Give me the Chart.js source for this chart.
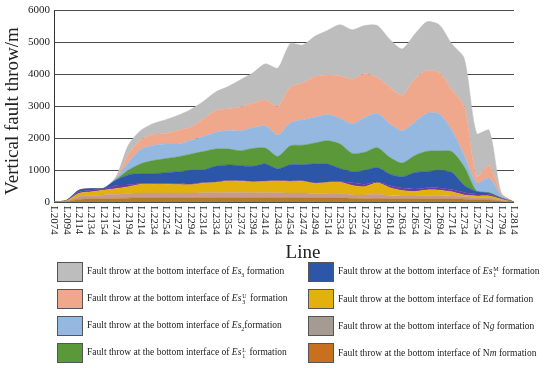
<!DOCTYPE html>
<html><head><meta charset="utf-8">
<script src="https://cdn.jsdelivr.net/npm/chart.js@4/dist/chart.umd.min.js"></script>
<style>
html,body{margin:0;padding:0;background:#fff;}
#wrap{position:relative;width:550px;height:368px;overflow:hidden;background:#fff;}
#c{position:absolute;left:0;top:0;}
.lg{position:absolute;font-family:"Liberation Serif",serif;font-size:9.5px;color:#222;white-space:nowrap;display:flex;align-items:center;height:20px;}
.box{width:26px;height:20px;border:1px solid #555;box-sizing:border-box;margin-right:4px;flex:none;}
.ss{display:inline-flex;flex-direction:column;vertical-align:middle;font-size:6px;line-height:6px;margin:0 1px;}
</style></head>
<body>
<div id="wrap">
<canvas id="c" width="550" height="265"></canvas>
<div id="legend"></div>
</div>
<script>
const labels = ["L2074","L2094","L2114","L2134","L2154","L2174","L2194","L2214","L2234","L2254","L2274","L2294","L2314","L2334","L2354","L2374","L2394","L2414","L2434","L2454","L2474","L2494","L2514","L2534","L2554","L2574","L2594","L2614","L2634","L2654","L2674","L2694","L2714","L2734","L2754","L2774","L2794","L2814"];
const yTicks = [0,1000,2000,3000,4000,5000,6000];
const xTitle = "Line";
const yTitle = "Vertical fault throw/m";

// Cumulative fault throw (m) at the bottom interface of each formation
const Nm   = [0,10,80,100,100,100,120,130,130,130,130,130,130,130,130,130,130,130,130,130,130,130,130,130,110,100,110,100,100,100,100,100,100,90,60,60,20,0];
const Ng   = [0,20,170,200,220,240,270,280,280,280,280,280,290,290,300,300,290,290,290,280,280,270,270,270,230,220,240,200,190,190,200,200,190,170,130,130,50,0];
const Ed   = [0,40,270,320,370,420,480,560,560,560,550,540,590,610,660,650,630,640,660,640,650,580,610,620,520,480,600,450,360,330,380,370,320,220,190,190,90,0];
const Es1U = [0,45,320,380,410,520,540,580,580,580,570,560,610,630,680,670,650,660,680,660,670,600,630,640,600,560,630,520,440,410,450,440,390,300,250,240,110,0];
const Es1M = [0,50,370,420,430,690,850,890,890,920,950,990,1000,1120,1160,1140,1120,1190,1040,1170,1170,1190,1190,1050,950,990,1080,880,790,920,960,990,930,520,330,280,120,0];
const Es1L = [0,50,370,420,430,700,1000,1200,1300,1360,1420,1500,1580,1660,1660,1610,1680,1690,1430,1760,1780,1850,1920,1820,1520,1560,1700,1400,1220,1450,1590,1600,1580,1100,340,290,125,0];
const Es2  = [0,50,370,420,430,750,1250,1650,1780,1820,1820,1930,2050,2180,2240,2230,2330,2380,2100,2480,2580,2660,2740,2620,2450,2650,2780,2450,2230,2500,2780,2760,2250,1450,600,750,200,0];
const Es3U = [0,50,370,420,430,760,1500,1950,2120,2150,2250,2350,2600,2870,2920,2980,3100,3200,3000,3600,3730,3930,3980,3950,3850,4030,3900,3600,3350,3850,4120,4050,3520,3000,800,1150,250,0];
const Es3  = [0,50,370,420,430,800,1800,2250,2460,2580,2720,2900,3150,3450,3620,3830,4050,4330,4200,4960,4920,5200,5380,5560,5400,5530,5530,5100,4800,5250,5650,5550,4950,4500,2150,2250,250,0];

const seriesNames = ["Nm","Ng","Ed","Es1U","Es1M","Es1L","Es2","Es3U","Es3"];
const seriesData = [Nm,Ng,Ed,Es1U,Es1M,Es1L,Es2,Es3U,Es3];
const seriesColors = ["#b67a28","#c79a8a","#e2b10e","#6b3aa6","#2c56a8","#5a983a","#95b8e0","#f0a88d","#bdbdbd"];

const legendItems = [
  {col:0,row:0,color:"#bdbdbd",html:'Fault throw at the bottom interface of <i>Es</i><sub style="font-size:6px">3</sub> formation'},
  {col:0,row:1,color:"#f0a88d",html:'Fault throw at the bottom interface of <i>Es</i><span class="ss"><span>U</span><span>3</span></span> formation'},
  {col:0,row:2,color:"#95b8e0",html:'Fault throw at the bottom interface of <i>Es</i><sub style="font-size:6px">2</sub>formation'},
  {col:0,row:3,color:"#5a983a",html:'Fault throw at the bottom interface of <i>Es</i><span class="ss"><span>L</span><span>1</span></span> formation'},
  {col:1,row:0,color:"#2c56a8",html:'Fault throw at the bottom interface of <i>Es</i><span class="ss"><span>M</span><span>1</span></span> formation'},
  {col:1,row:1,color:"#e2b10e",html:'Fault throw at the bottom interface of E<i>d</i> formation'},
  {col:1,row:2,color:"#a59b93",html:'Fault throw at the bottom interface of N<i>g</i> formation'},
  {col:1,row:3,color:"#c8701f",html:'Fault throw at the bottom interface of N<i>m</i> formation'}
];
const rowTops=[262,289,316,343];
const colLefts=[57,308];
const lg=document.getElementById('legend');
legendItems.forEach(it=>{
  const d=document.createElement('div');d.className='lg';
  d.style.left=colLefts[it.col]+'px';d.style.top=rowTops[it.row]+'px';
  d.innerHTML='<div class="box" style="background:'+it.color+'"></div><span>'+it.html+'</span>';
  lg.appendChild(d);
});

const datasets = seriesData.map((arr,i)=>({
  label: seriesNames[i],
  data: arr,
  backgroundColor: seriesColors[i],
  borderColor: seriesColors[i],
  borderWidth: 0.5,
  fill: i===0 ? 'origin' : '-1',
  pointRadius: 0,
  tension: 0.25
}));

const drawPlugin = {
  id:'customText',
  afterDraw(chart){
    const {ctx, scales:{x,y}} = chart;
    ctx.save();
    ctx.fillStyle='#222';
    ctx.font='11px "Liberation Serif"';
    ctx.textAlign='left';ctx.textBaseline='middle';
    labels.forEach((l,i)=>{
      const px=x.getPixelForValue(i);
      ctx.save();ctx.translate(px,y.bottom+4);ctx.rotate(Math.PI/2);ctx.fillText(l,0,0);ctx.restore();
    });
    ctx.font='19px "Liberation Serif"';
    ctx.textAlign='center';ctx.textBaseline='alphabetic';
    ctx.fillText(xTitle,303,258);
    ctx.translate(13,111);ctx.rotate(-Math.PI/2);ctx.textBaseline='middle';
    ctx.fillText(yTitle,0,0);
    ctx.restore();
  }
};

new Chart(document.getElementById('c'),{
  type:'line',
  data:{labels,datasets},
  options:{
    responsive:false,animation:false,
    layout:{padding:{top:8,right:36,left:0,bottom:0}},
    plugins:{legend:{display:false},tooltip:{enabled:false}},
    scales:{
      x:{type:'category',offset:false,grid:{display:false},border:{display:false},ticks:{display:false},afterFit(s){s.height=63;}},
      y:{min:0,max:6000,z:1,
         afterBuildTicks(s){s.ticks=yTicks.map(v=>({value:v}));},
         ticks:{font:{family:'Liberation Serif',size:11},color:'#222',padding:4,callback:(v)=>String(v)},
         grid:{color:'#4a4a4a',drawTicks:false,lineWidth:1},
         border:{display:true,color:'#333',width:1},
         afterFit(s){s.width=54;}}
    }
  },
  plugins:[drawPlugin]
});
</script>
</body></html>
